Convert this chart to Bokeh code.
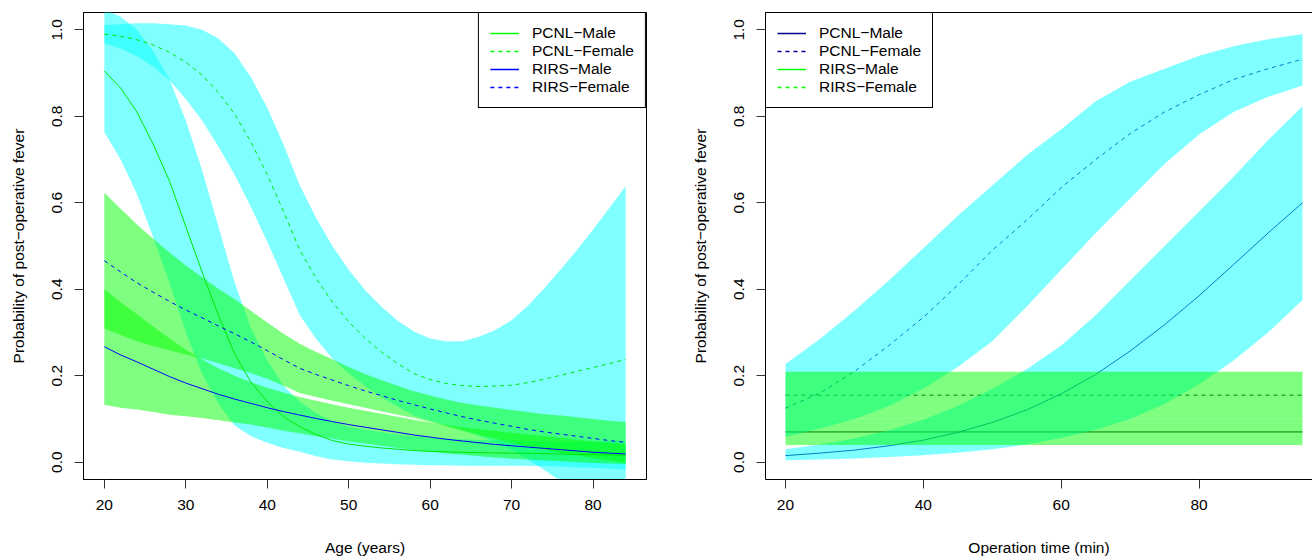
from bokeh.plotting import figure
from bokeh.layouts import row
from bokeh.models import Range1d, FixedTicker, Legend, LegendItem, LinearAxis, PrintfTickFormatter
from bokeh.embed import file_html
from bokeh.resources import INLINE

NAN = float("nan")

# ---------------- Left panel: Age ----------------
age = [20, 22, 24, 26, 28, 30, 32, 34, 36, 38, 40, 42, 44, 46, 48, 50,
       52, 54, 56, 58, 60, 62, 64, 66, 68, 70, 72, 74, 76, 78, 80, 82, 84]

pcnl_m_mid = [.905, .865, .81, .735, .65, .545, .44, .34, .25, .185, .14, .105, .082, .064, .05, .042,
              .037, .033, .03, .027, .025, .024, .023, .022, .0215, .021, .0205, .02, .019, .018, .0175, .017, .016]
pcnl_m_lo = [.763, .70, .62, .52, .415, .30, .205, .135, .085, .06, .045, .033, .024, .014, .006, .002,
             -.001, -.003, -.005, -.006, -.007, -.007, -.008, -.008, -.008, -.008, -.008, -.009, -.01, -.012, -.013, -.015, -.017]
pcnl_m_hi = [1.047, 1.03, 1.00, .95, .885, .79, .675, .545, .415, .31, .235, .177, .14, .114, .094, .082,
             .075, .069, .064, .06, .057, .055, .053, .052, .051, .05, .049, .049, .048, .048, .048, .049, .049]

pcnl_f_mid = [.99, .985, .977, .965, .948, .925, .895, .855, .805, .74, .665, .58, .49, .425, .37, .325,
              .287, .255, .228, .205, .191, .182, .177, .175, .176, .178, .184, .192, .201, .21, .219, .228, .238]
pcnl_f_lo = [.969, .957, .939, .915, .883, .84, .79, .73, .665, .59, .51, .425, .34, .285, .24, .205,
             .176, .15, .129, .108, .096, .085, .074, .06, .046, .028, .006, -.018, -.043, -.07, -.10, -.132, -.162]
pcnl_f_hi = [1.011, 1.013, 1.015, 1.015, 1.013, 1.01, 1.0, .98, .945, .89, .82, .735, .64, .565, .50, .445,
             .398, .36, .327, .302, .286, .279, .28, .29, .306, .328, .362, .402, .445, .49, .538, .588, .638]

rirs_m_mid = [.267, .248, .232, .215, .198, .183, .17, .157, .146, .136, .126, .117, .109, .101, .094, .087,
              .081, .075, .069, .063, .058, .053, .049, .045, .041, .038, .035, .032, .029, .026, .023, .021, .019]
rirs_m_lo = [.133, .126, .122, .116, .11, .106, .102, .097, .092, .087, .08, .073, .067, .06, .054, .048,
             .043, .038, .033, .028, .024, .02, .017, .014, .011, .008, .006, .004, .002, .0, -.002, -.003, -.004]
rirs_m_hi = [.401, .37, .342, .314, .286, .26, .238, .217, .20, .185, .172, .161, .151, .142, .134, .126,
             .119, .112, .105, .098, .092, .086, .081, .076, .072, .068, .064, .06, .056, .052, .048, .045, .042]

rirs_f_mid = [.466, .44, .415, .393, .372, .352, .334, .315, .297, .278, .258, .237, .217, .203, .19, .177,
              .165, .154, .143, .133, .123, .114, .105, .097, .09, .083, .076, .07, .065, .06, .055, .05, .046]
rirs_f_lo = [.309, .294, .28, .269, .259, .249, .24, .229, .217, .206, .193, .177, .16, .151, .142, .134,
             .126, .118, .11, .102, .093, .083, .073, .063, .054, .045, .036, .029, .022, .016, .01, .004, -.001]
rirs_f_hi = [.623, .586, .55, .517, .485, .455, .428, .401, .377, .35, .323, .297, .274, .255, .238, .22,
             .204, .19, .177, .164, .154, .145, .137, .131, .126, .121, .116, .111, .108, .104, .10, .096, .093]

# ---------------- Right panel: Operation time ----------------
optime = [20, 25, 30, 35, 40, 45, 50, 55, 60, 65, 70, 75, 80, 85, 90, 95]

op_pcnl_m_mid = [.0153, .021, .028, .038, .051, .069, .092, .121, .158, .203, .257, .318, .385, .457, .53, .60]
op_pcnl_m_lo = [.0045, .006, .0085, .012, .016, .022, .03, .041, .056, .075, .10, .135, .18, .235, .30, .375]
op_pcnl_m_hi = [.03, .041, .055, .074, .098, .13, .17, .215, .27, .34, .42, .50, .58, .66, .745, .823]

op_pcnl_f_mid = [.125, .16, .21, .27, .335, .41, .49, .56, .635, .70, .76, .81, .85, .885, .91, .932]
op_pcnl_f_lo = [.058, .078, .10, .13, .17, .22, .28, .36, .445, .53, .61, .69, .758, .81, .845, .871]
op_pcnl_f_hi = [.227, .285, .35, .42, .495, .57, .64, .71, .77, .835, .88, .91, .94, .962, .978, .99]

optime_flat = [20, 95]
op_rirs_m_mid = [.07, .07]
op_rirs_m_lo = [.04, .04]
op_rirs_m_hi = [.101, .101]
op_rirs_f_mid = [.155, .155]
op_rirs_f_lo = [.101, .101]
op_rirs_f_hi = [.209, .209]

y_ticks = [0.0, 0.2, 0.4, 0.6, 0.8, 1.0]
age_ticks = [20, 30, 40, 50, 60, 70, 80]
op_ticks = [20, 40, 60, 80]
labels = ["PCNL\u2212Male", "PCNL\u2212Female", "RIRS\u2212Male", "RIRS\u2212Female"]
ylabel = "Probability of post\u2212operative fever"

FONT = "Liberation Sans"
FS = "15.5px"
CYAN = "#00FFFF"
GREEN = "#00FF00"
LIME_LINE = "#00E600"
BLUE = "#0000FF"
DARKBLUE = "#00008B"
KEY_W = 1.5


def style_axes(p, xticks, xlabel):
    p.xaxis.ticker = FixedTicker(ticks=xticks)
    p.yaxis.ticker = FixedTicker(ticks=y_ticks)
    p.yaxis.formatter = PrintfTickFormatter(format="%.1f")
    p.xaxis.axis_label = xlabel
    p.yaxis.axis_label = ylabel
    for ax in [p.xaxis[0], p.yaxis[0]]:
        ax.axis_label_text_font = FONT
        ax.axis_label_text_font_size = FS
        ax.axis_label_text_font_style = "normal"
        ax.axis_label_text_color = "black"
        ax.major_label_text_font = FONT
        ax.major_label_text_font_size = FS
        ax.major_label_text_color = "black"
        ax.major_tick_out = 9
        ax.major_tick_in = 0
        ax.major_tick_line_color = "#333333"
        ax.minor_tick_line_color = None
        ax.axis_line_color = "black"
    p.xaxis.major_label_standoff = 11
    p.xaxis.axis_label_standoff = 26
    p.yaxis.major_label_standoff = 12
    p.yaxis.axis_label_standoff = 23
    p.yaxis.major_label_orientation = "vertical"
    p.xgrid.visible = False
    p.ygrid.visible = False


def make_legend(items, loc):
    return Legend(items=items, location=loc, margin=0, padding=11, spacing=0,
                  glyph_width=29, glyph_height=18, label_height=18, label_standoff=13,
                  label_text_font=FONT, label_text_font_size=FS, label_text_color="black",
                  border_line_color="black", border_line_width=1, border_line_alpha=1,
                  background_fill_color="white", background_fill_alpha=1)


def legend_keys(p, colors):
    keys = []
    for c, dash in zip(colors, ["solid", "4 4", "solid", "4 4"]):
        keys.append(p.line([20, 20], [NAN, NAN], line_color=c, line_width=KEY_W, line_dash=dash))
    return [LegendItem(label=lab, renderers=[k]) for lab, k in zip(labels, keys)]


# ---- left figure ----
p1 = figure(width=688, height=558, output_backend="svg", toolbar_location=None,
            x_range=Range1d(17.44, 86.56), y_range=Range1d(-0.04, 1.04),
            min_border_left=83, min_border_right=42, min_border_top=12, min_border_bottom=77)
p1.outline_line_color = "black"
p1.outline_line_width = 1
p1.outline_line_alpha = 1

p1.varea(x=age, y1=pcnl_m_lo, y2=pcnl_m_hi, fill_color=CYAN, fill_alpha=0.5)
p1.varea(x=age, y1=pcnl_f_lo, y2=pcnl_f_hi, fill_color=CYAN, fill_alpha=0.5)
p1.varea(x=age, y1=rirs_m_lo, y2=rirs_m_hi, fill_color=GREEN, fill_alpha=0.5)
p1.varea(x=age, y1=rirs_f_lo, y2=rirs_f_hi, fill_color=GREEN, fill_alpha=0.5)

p1.line(age, pcnl_m_mid, line_color=LIME_LINE, line_width=1)
p1.line(age, pcnl_f_mid, line_color=LIME_LINE, line_width=1, line_dash="4 4")
p1.line(age, rirs_m_mid, line_color=BLUE, line_width=1)
p1.line(age, rirs_f_mid, line_color=BLUE, line_width=1, line_dash="4 4")

style_axes(p1, age_ticks, "Age (years)")
p1.add_layout(make_legend(legend_keys(p1, [GREEN, GREEN, BLUE, BLUE]), "top_right"))

# ---- right figure ----
p2 = figure(width=624, height=558, output_backend="svg", toolbar_location=None,
            x_range=Range1d(17.1, 96.45), y_range=Range1d(-0.04, 1.04),
            min_border_left=75, min_border_right=0, min_border_top=12, min_border_bottom=77)
p2.outline_line_color = None

# lines first (bands drawn over them)
p2.line(optime, op_pcnl_m_mid, line_color=DARKBLUE, line_width=1)
p2.line(optime, op_pcnl_f_mid, line_color=DARKBLUE, line_width=1, line_dash="4 4")
p2.line(optime_flat, op_rirs_m_mid, line_color="black", line_width=1)
p2.line(optime_flat, op_rirs_f_mid, line_color="black", line_width=1, line_dash="4 4")

p2.varea(x=optime, y1=op_pcnl_m_lo, y2=op_pcnl_m_hi, fill_color=CYAN, fill_alpha=0.5)
p2.varea(x=optime, y1=op_pcnl_f_lo, y2=op_pcnl_f_hi, fill_color=CYAN, fill_alpha=0.5)
p2.varea(x=optime_flat, y1=op_rirs_m_lo, y2=op_rirs_m_hi, fill_color=GREEN, fill_alpha=0.5)
p2.varea(x=optime_flat, y1=op_rirs_f_lo, y2=op_rirs_f_hi, fill_color=GREEN, fill_alpha=0.5)

style_axes(p2, op_ticks, "Operation time (min)")
top_axis = LinearAxis(ticker=FixedTicker(ticks=[]), major_tick_out=0, major_tick_in=0,
                      axis_line_color="black", major_label_text_font_size="0px")
p2.add_layout(top_axis, "above")
p2.add_layout(make_legend(legend_keys(p2, [DARKBLUE, DARKBLUE, GREEN, GREEN]), "top_left"))

layout = row(p1, p2)
open("out.html", "w").write(file_html(layout, INLINE))
